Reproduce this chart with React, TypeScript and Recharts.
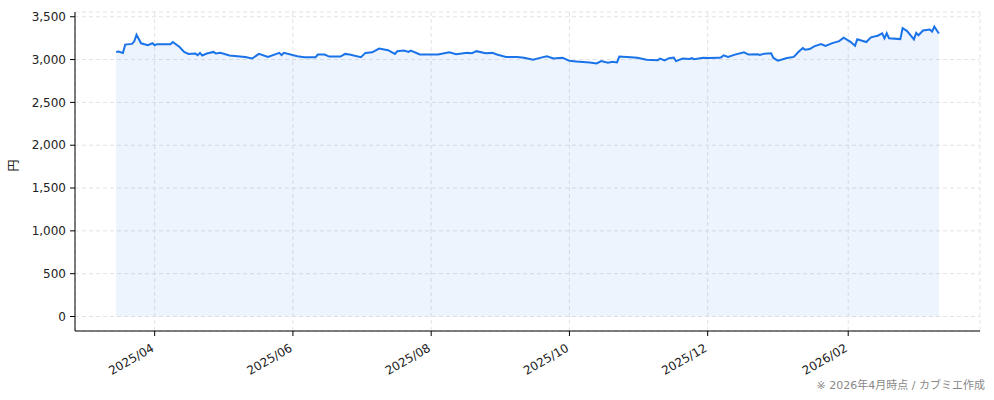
import { AreaChart, Area, XAxis, YAxis, CartesianGrid } from 'recharts';

// daily close (yen)
const dates = [
  '2025-03-15', '2025-03-16', '2025-03-18', '2025-03-19', '2025-03-22', '2025-03-23', '2025-03-24', '2025-03-26',
  '2025-03-29', '2025-03-31', '2025-04-01', '2025-04-02', '2025-04-08', '2025-04-09', '2025-04-12', '2025-04-14',
  '2025-04-16', '2025-04-19', '2025-04-20', '2025-04-21', '2025-04-22', '2025-04-24', '2025-04-27', '2025-04-28',
  '2025-04-30', '2025-05-04', '2025-05-11', '2025-05-14', '2025-05-17', '2025-05-21', '2025-05-26', '2025-05-27',
  '2025-05-28', '2025-06-03', '2025-06-06', '2025-06-11', '2025-06-12', '2025-06-15', '2025-06-17', '2025-06-22',
  '2025-06-24', '2025-06-26', '2025-07-01', '2025-07-03', '2025-07-06', '2025-07-09', '2025-07-13', '2025-07-16',
  '2025-07-17', '2025-07-20', '2025-07-22', '2025-07-23', '2025-07-27', '2025-07-30', '2025-08-04', '2025-08-09',
  '2025-08-12', '2025-08-17', '2025-08-19', '2025-08-21', '2025-08-25', '2025-08-28', '2025-08-30', '2025-09-03',
  '2025-09-08', '2025-09-11', '2025-09-15', '2025-09-18', '2025-09-21', '2025-09-24', '2025-09-28', '2025-10-01',
  '2025-10-04', '2025-10-10', '2025-10-13', '2025-10-15', '2025-10-18', '2025-10-20', '2025-10-22', '2025-10-23',
  '2025-10-28', '2025-10-31', '2025-11-04', '2025-11-09', '2025-11-10', '2025-11-12', '2025-11-14', '2025-11-16',
  '2025-11-17', '2025-11-20', '2025-11-23', '2025-11-24', '2025-11-25', '2025-11-29', '2025-12-01', '2025-12-06',
  '2025-12-07', '2025-12-08', '2025-12-10', '2025-12-13', '2025-12-17', '2025-12-19', '2025-12-23', '2025-12-24',
  '2025-12-26', '2025-12-29', '2025-12-30', '2026-01-01', '2026-01-05', '2026-01-08', '2026-01-10', '2026-01-12',
  '2026-01-13', '2026-01-15', '2026-01-17', '2026-01-20', '2026-01-22', '2026-01-25', '2026-01-28', '2026-01-30',
  '2026-02-02', '2026-02-04', '2026-02-05', '2026-02-09', '2026-02-11', '2026-02-14', '2026-02-16', '2026-02-17',
  '2026-02-18', '2026-02-19', '2026-02-24', '2026-02-25', '2026-02-27', '2026-03-02', '2026-03-03', '2026-03-04',
  '2026-03-06', '2026-03-09', '2026-03-10', '2026-03-11', '2026-03-13',
];

const prices = [
  3089, 3095, 3078, 3175, 3183, 3213, 3290, 3190,
  3167, 3190, 3167, 3180, 3178, 3205, 3147, 3089,
  3066, 3070, 3051, 3078, 3047, 3070, 3089, 3070,
  3078, 3047, 3031, 3012, 3066, 3031, 3078, 3051,
  3078, 3039, 3028, 3028, 3058, 3058, 3035, 3035,
  3066, 3058, 3028, 3078, 3085, 3128, 3109, 3066,
  3097, 3105, 3089, 3105, 3059, 3059, 3059, 3086,
  3062, 3078, 3074, 3098, 3074, 3078, 3059, 3031,
  3031, 3020, 2997, 3020, 3039, 3012, 3020, 2985,
  2978, 2966, 2955, 2982, 2963, 2974, 2966, 3035,
  3028, 3020, 2997, 2993, 3012, 2989, 3016, 3024,
  2982, 3012, 3008, 3016, 3004, 3020, 3019, 3020,
  3027, 3050, 3031, 3058, 3085, 3058, 3062, 3054,
  3069, 3073, 3019, 2988, 3019, 3031, 3088, 3135,
  3115, 3123, 3154, 3181, 3158, 3192, 3215, 3255,
  3207, 3162, 3236, 3205, 3259, 3278, 3305, 3247,
  3307, 3249, 3239, 3366, 3332, 3235, 3312, 3284,
  3340, 3350, 3326, 3386, 3305,
];

const xTicks = ['2025-04-01', '2025-06-01', '2025-08-01', '2025-10-01', '2025-12-01', '2026-02-01'];
const yTicks = [0, 500, 1000, 1500, 2000, 2500, 3000, 3500];

const toTime = (s: string) => Date.parse(s + 'T00:00:00Z');
const data = dates.map((d, i) => ({ t: toTime(d), price: prices[i] }));

const tMin = data[0].t;
const tMax = data[data.length - 1].t;
const tPad = (tMax - tMin) * 0.05;
const yMax = Math.max(...prices);
const yPad = yMax * 0.05;

const FONT = '"DejaVu Sans", "Noto Sans CJK JP", sans-serif';

const fmtMonth = (v: number) => {
  const d = new Date(v);
  return `${d.getUTCFullYear()}/${String(d.getUTCMonth() + 1).padStart(2, '0')}`;
};

const RotatedTick = ({ x, y, payload }: any) => (
  <text
    x={x - 4}
    y={y + 5}
    dy="0.71em"
    textAnchor="end"
    transform={`rotate(-30, ${x - 4}, ${y + 5})`}
    fontSize={12}
    fontFamily={FONT}
    fill="#222"
  >
    {fmtMonth(payload.value)}
  </text>
);

export default function App() {
  return (
    <div style={{ position: 'absolute', left: 0, top: 0, width: 994, height: 400, background: '#fff' }}>
      <AreaChart width={994} height={400} data={data} margin={{ top: 12, right: 14, bottom: 9, left: 0 }}>
        <CartesianGrid stroke="#e3e3e3" strokeDasharray="4 3" />
        <XAxis
          dataKey="t"
          type="number"
          scale="linear"
          domain={[tMin - tPad, tMax + tPad]}
          ticks={xTicks.map(toTime)}
          tick={<RotatedTick />}
          tickSize={5}
          tickMargin={2}
          height={60}
          stroke="#000"
          interval={0}
        />
        <YAxis
          type="number"
          domain={[-yPad, yMax + yPad]}
          ticks={yTicks}
          tickFormatter={(v: number) => v.toLocaleString('en-US')}
          tick={{ fontSize: 12, fill: '#222', fontFamily: FONT }}
          tickSize={5}
          tickMargin={4}
          width={75}
          stroke="#000"
          interval={0}
          allowDataOverflow
          label={{ value: '円', angle: -90, position: 'insideLeft', offset: 14, style: { fontSize: 12, fill: '#222', fontFamily: FONT } }}
        />
        <Area
          type="linear"
          dataKey="price"
          baseValue={0}
          stroke="#1a73e8"
          strokeWidth={2}
          fill="#1a73e8"
          fillOpacity={0.08}
          dot={false}
          activeDot={false}
          isAnimationActive={false}
        />
      </AreaChart>
      <div
        style={{
          position: 'absolute',
          right: 9,
          top: 376,
          fontSize: 11,
          color: '#888',
          fontFamily: FONT,
          whiteSpace: 'nowrap',
        }}
      >
        ※ 2026年4月時点 / カブミエ作成
      </div>
    </div>
  );
}
